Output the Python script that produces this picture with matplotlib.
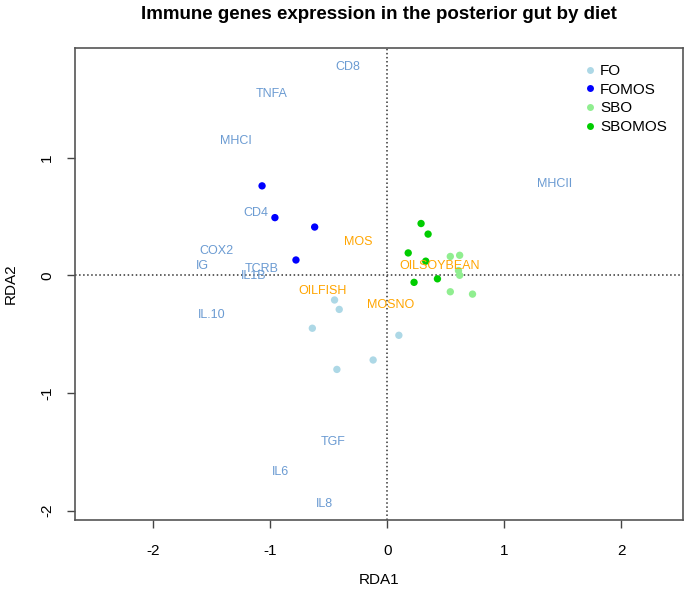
import matplotlib
matplotlib.use("Agg")
import matplotlib.pyplot as plt
from matplotlib.lines import Line2D

plt.rcParams['font.family'] = ['Liberation Sans', 'DejaVu Sans']
plt.rcParams['axes.unicode_minus'] = False

# site scores by diet group
fo_x = [-0.45, -0.41, -0.64, 0.10, -0.12, -0.43]
fo_y = [-0.21, -0.29, -0.45, -0.51, -0.72, -0.80]
fomos_x = [-1.07, -0.96, -0.62, -0.78]
fomos_y = [0.76, 0.49, 0.41, 0.13]
sbo_x = [0.54, 0.62, 0.61, 0.62, 0.54, 0.73]
sbo_y = [0.16, 0.17, 0.04, 0.00, -0.14, -0.16]
sbomos_x = [0.29, 0.35, 0.18, 0.33, 0.23, 0.43]
sbomos_y = [0.44, 0.35, 0.19, 0.12, -0.06, -0.03]

# species (genes) scores
genes = ['CD8', 'TNFA', 'MHCI', 'CD4', 'COX2', 'IG', 'TCRB', 'IL1B',
         'IL.10', 'MHCII', 'TGF', 'IL6', 'IL8']
genes_x = [-0.34, -0.99, -1.29, -1.12, -1.46, -1.58, -1.07, -1.14,
           -1.50, 1.43, -0.46, -0.91, -0.54]
genes_y = [1.77, 1.54, 1.14, 0.53, 0.21, 0.08, 0.05, -0.01,
           -0.34, 0.78, -1.42, -1.67, -1.94]

# constraining variables
factors = ['MOS', 'OILSOYBEAN', 'OILFISH', 'MOSNO']
factors_x = [-0.25, 0.45, -0.55, 0.03]
factors_y = [0.28, 0.08, -0.13, -0.25]

groups = ['FO', 'FOMOS', 'SBO', 'SBOMOS']
colors = ['lightblue', 'blue', 'lightgreen', '#00CD00']

fig = plt.figure(figsize=(6.86, 5.95), dpi=100)
ax = fig.add_axes([0.1093, 0.126, 0.8863, 0.793])

ax.axhline(0, color='#333333', ls=':', lw=1.1, zorder=1)
ax.axvline(0, color='#333333', ls=':', lw=1.1, zorder=1)

for gx, gy, c in zip([fo_x, fomos_x, sbo_x, sbomos_x],
                     [fo_y, fomos_y, sbo_y, sbomos_y], colors):
    ax.scatter(gx, gy, s=28, color=c, edgecolors='none', zorder=3)

for name, x, y in zip(genes, genes_x, genes_y):
    ax.text(x, y, name, color='#6B9BD2', fontsize=9, ha='center', va='center', zorder=4)

for name, x, y in zip(factors, factors_x, factors_y):
    ax.text(x, y, name, color='#FFA500', fontsize=9, ha='center', va='center', zorder=4)

ax.set_xlim(-2.67, 2.53)
ax.set_ylim(-2.08, 1.93)
ax.set_xticks([-2, -1, 0, 1, 2])
ax.set_yticks([-2, -1, 0, 1])
ax.tick_params(direction='out', length=6, width=1, color='#444444',
               labelsize=11)
ax.tick_params(axis='x', pad=11)
ax.tick_params(axis='y', pad=9)
for lab in ax.get_yticklabels():
    lab.set_rotation(90)
    lab.set_va('center')
for sp in ax.spines.values():
    sp.set_color('#555555')
    sp.set_linewidth(1.2)

ax.set_xlabel('RDA1', fontsize=11, labelpad=11)
ax.set_ylabel('RDA2', fontsize=11, labelpad=16)
fig.suptitle('Immune genes expression in the posterior gut by diet',
             fontsize=13.5, fontweight='bold', x=0.552, y=0.99)

handles = [Line2D([], [], marker='o', ls='none', markersize=5,
                  markerfacecolor=c, markeredgecolor='none') for c in colors]
ax.legend(handles, groups, loc='upper right', frameon=False, fontsize=11,
          handletextpad=0.05, labelspacing=0.3, borderaxespad=0.65,
          handlelength=1.2)

fig.savefig('out.png', dpi=100)
